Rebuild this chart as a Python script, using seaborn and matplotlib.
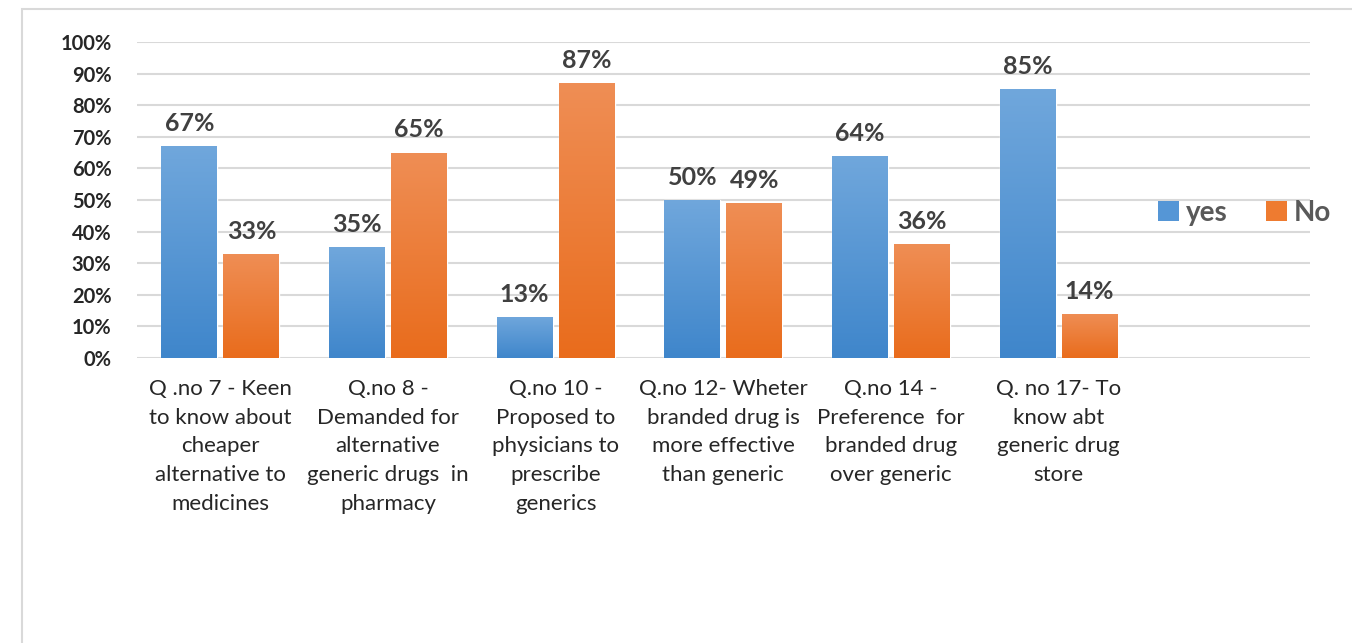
"""
Generic vs branded drugs - survey responses (yes / No)
"""

import numpy as np
import pandas as pd
import matplotlib.pyplot as plt
import matplotlib.patheffects as pe
from matplotlib.colors import LinearSegmentedColormap
from matplotlib.patches import Rectangle
import seaborn as sns

# ── Data ──────────────────────────────────────
QUESTIONS = [
    "Q .no 7 - Keen\nto know about\ncheaper\nalternative to\nmedicines",
    "Q.no 8 -\nDemanded for\nalternative\ngeneric drugs  in\npharmacy",
    "Q.no 10 -\nProposed to\nphysicians to\nprescribe\ngenerics",
    "Q.no 12- Wheter\nbranded drug is\nmore effective\nthan generic",
    "Q.no 14 -\nPreference  for\nbranded drug\nover generic",
    "Q. no 17- To\nknow abt\ngeneric drug\nstore",
]
YES = [0.67, 0.35, 0.13, 0.50, 0.64, 0.85]
NO  = [0.33, 0.65, 0.87, 0.49, 0.36, 0.14]
SERIES = ["yes", "No"]
COLORS = ["#5596D6", "#EE7B30"]
# (bottom, top) shades for the Excel-like gradient fill
GRADIENTS = [("#3F86CB", "#70A7DC"), ("#E96C1C", "#EF8E55")]

FONT = ["Lato", "DejaVu Sans"]

# ── Build long table ──────────────────────────
df = pd.DataFrame({
    "question": QUESTIONS * 2,
    "answer": ["yes"] * len(YES) + ["No"] * len(NO),
    "value": YES + NO,
})

# ── Plot ──────────────────────────────────────
sns.set_theme(style="white")
plt.rcParams["font.family"] = FONT

fig = plt.figure(figsize=(13.52, 6.43), dpi=100)
ax = fig.add_axes([0.101, 0.4432, 0.868, 0.4915])

sns.barplot(data=df, x="question", y="value", hue="answer",
            hue_order=SERIES, palette=COLORS, width=0.74, gap=0.1,
            saturation=1, ax=ax, legend=True)

shadow = [pe.SimplePatchShadow(offset=(0, -1.5), alpha=0.35), pe.Normal()]
grad = np.linspace(0, 1, 256).reshape(-1, 1)
for cont, (lo, hi) in zip(ax.containers, GRADIENTS):
    cmap = LinearSegmentedColormap.from_list("g", [lo, hi])
    for bar in cont:
        bar.set_path_effects(shadow)
        x0, y0 = bar.get_x(), bar.get_y()
        img = ax.imshow(grad, extent=[x0, x0 + bar.get_width(), y0, y0 + bar.get_height()],
                        origin="lower", aspect="auto", cmap=cmap,
                        zorder=bar.get_zorder() + 0.1)
        img.set_clip_path(bar)

for cont in ax.containers:
    ax.bar_label(cont, labels=[f"{v * 100:.0f}%" for v in cont.datavalues],
                 padding=8, fontsize=18, fontweight="bold", color="#404040")

ax.set_xlim(-0.5, 6.5)
ax.set_ylim(0, 1)
ax.set_yticks([i / 10 for i in range(11)])
ax.set_yticklabels([f"{i * 10}%" for i in range(11)],
                   fontsize=14.5, fontweight="bold", color="#262626")
ax.set_xticks(range(len(QUESTIONS)))
ax.set_xticklabels(QUESTIONS, fontsize=16, color="#262626", linespacing=1.55)
ax.tick_params(axis="y", length=0, pad=18)
ax.tick_params(axis="x", length=0, pad=15)
ax.set_xlabel("")
ax.set_ylabel("")

ax.yaxis.grid(True, color="#D9D9D9", linewidth=1.5)
ax.set_axisbelow(True)
for side in ax.spines.values():
    side.set_visible(False)

leg = ax.legend(loc="center left", bbox_to_anchor=(0.849, 0.46), frameon=False,
                ncol=2, handlelength=0.75, handleheight=0.75, handletextpad=0.25,
                columnspacing=1.4, prop={"size": 20, "weight": "bold"})
for t in leg.get_texts():
    t.set_color("#595959")
for h in leg.legend_handles:
    h.set_path_effects([])
    h.set_edgecolor("none")

# chart area border
fig.add_artist(Rectangle((0.0163, -0.05), 1.1, 0.05 + 0.986,
                         transform=fig.transFigure, fill=False,
                         edgecolor="#D9D9D9", linewidth=1.5))

plt.savefig("out.png", dpi=100)
